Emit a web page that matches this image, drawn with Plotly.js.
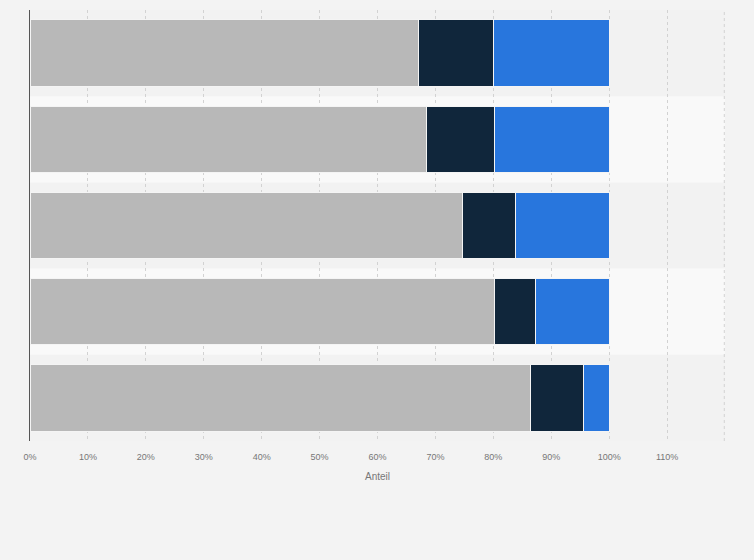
<!DOCTYPE html>
<html>
<head>
<meta charset="utf-8">
<script src="https://cdn.plot.ly/plotly-3.0.1.min.js"></script>
<style>
  html, body { margin: 0; padding: 0; background: #f3f3f3; }
  #chart { width: 754px; height: 560px; }
</style>
</head>
<body>
<div id="chart"></div>
<script>
// categories top to bottom (labels are not shown in the picture)
const categories = ['Gruppe 1', 'Gruppe 2', 'Gruppe 3', 'Gruppe 4', 'Gruppe 5'];

// shares in percent
const seriesGrey = [67.1, 68.4, 74.6, 80.2, 86.5];
const seriesNavy = [13.0, 11.8, 9.3, 7.0, 9.1];
const seriesBlue = [19.9, 19.8, 16.1, 12.8, 4.4];

const tickValues = [0, 10, 20, 30, 40, 50, 60, 70, 80, 90, 100, 110, 120];
const tickLabels = ['0%', '10%', '20%', '30%', '40%', '50%', '60%', '70%', '80%', '90%', '100%', '110%', ''];

function barTrace(name, values, color) {
    return {
        type: 'bar',
        orientation: 'h',
        name: name,
        y: categories,
        x: values,
        marker: {
            color: color,
            line: { color: '#f4f4f4', width: 1 }
        },
        hoverinfo: 'x+name'
    };
}

const data = [
    barTrace('Anteil 1', seriesGrey, '#b8b8b8'),
    barTrace('Anteil 2', seriesNavy, '#10263b'),
    barTrace('Anteil 3', seriesBlue, '#2876dd')
];

// lighter band behind every second row
const shapes = [1, 3].map(i => ({
    type: 'rect',
    xref: 'paper',
    yref: 'y',
    x0: 0,
    x1: 1,
    y0: i - 0.5,
    y1: i + 0.5,
    fillcolor: '#f9f9f9',
    line: { width: 0 },
    layer: 'below'
}));
// gridline on the right edge, plotly skips it
shapes.push({
    type: 'line',
    xref: 'paper',
    yref: 'paper',
    x0: 0.999,
    x1: 0.999,
    y0: 0,
    y1: 1,
    line: { color: '#d2d2d2', width: 1, dash: 'dot' },
    layer: 'below'
});

const layout = {
    width: 754,
    height: 560,
    barmode: 'stack',
    bargap: 0.23,
    showlegend: false,
    paper_bgcolor: '#f3f3f3',
    plot_bgcolor: '#f2f2f2',
    margin: { l: 30, r: 29, t: 10, b: 119 },
    font: { family: 'Liberation Sans, Arial, sans-serif', color: '#666' },
    xaxis: {
        range: [0, 120],
        tickvals: tickValues,
        ticktext: tickLabels,
        tickfont: { size: 9, color: '#777' },
        ticklabelstandoff: 9,
        showgrid: true,
        gridcolor: '#d2d2d2',
        griddash: 'dot',
        gridwidth: 1,
        zeroline: false,
        fixedrange: true,
        ticks: '',
        title: { text: 'Anteil', font: { size: 10, color: '#777' }, standoff: 11 }
    },
    yaxis: {
        autorange: 'reversed',
        showticklabels: false,
        showgrid: false,
        zeroline: false,
        showline: true,
        linecolor: '#555',
        linewidth: 1.5,
        ticks: ''
    },
    shapes: shapes
};

Plotly.newPlot('chart', data, layout, { displayModeBar: false, staticPlot: true });
</script>
</body>
</html>
